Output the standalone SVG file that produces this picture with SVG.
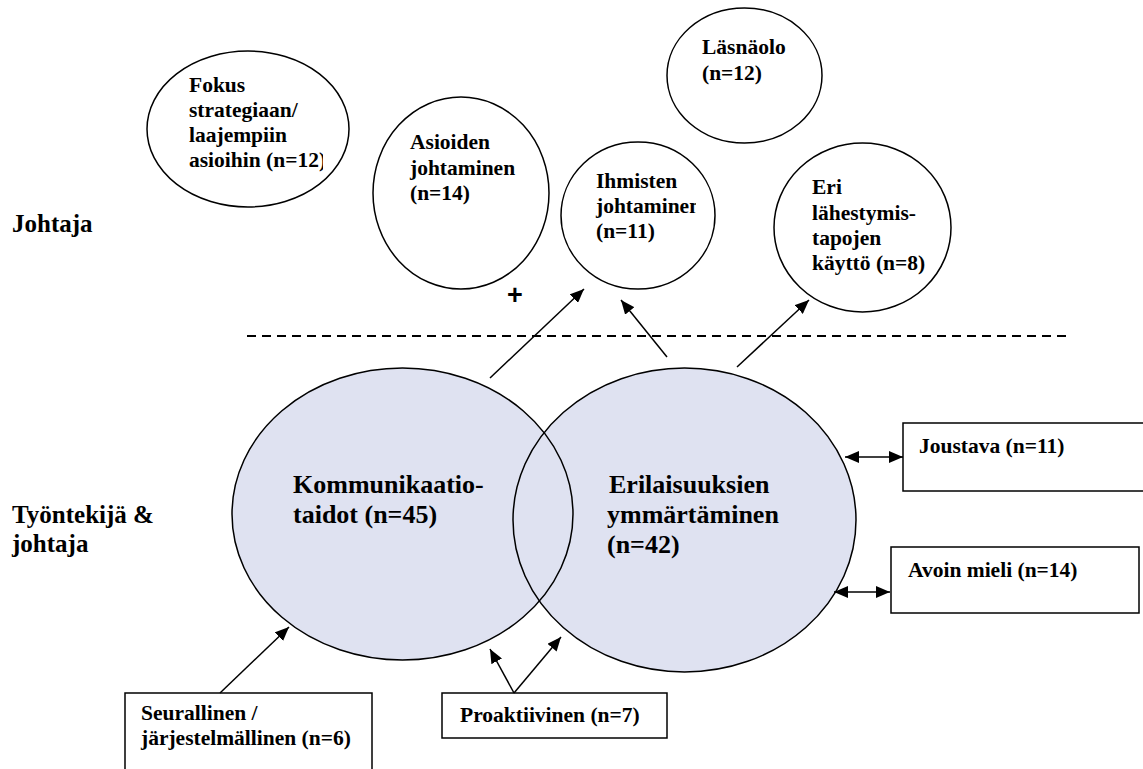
<svg xmlns="http://www.w3.org/2000/svg" width="1143" height="769" viewBox="0 0 1143 769">
<style>
text{font-family:'Liberation Serif','Times New Roman',serif;font-weight:bold;fill:#000}
.s{font-size:21.5px}
.m{font-size:26px}
.l{font-size:25px}
.o{fill:#fff;stroke:#000;stroke-width:1.5}
.f{fill:#dfe2f1;stroke:none}
.e{fill:none;stroke:#000;stroke-width:1.5}
.b{fill:#fff;stroke:#000;stroke-width:1.5}
.c{stroke:#000;stroke-width:1.5;fill:none}
</style>
<defs>
<marker id="ah" viewBox="0 0 14 12" refX="14" refY="6" markerWidth="14" markerHeight="12" markerUnits="userSpaceOnUse" orient="auto">
<path d="M0,0 L14,6 L0,12 Z" fill="#000"/>
</marker>
<marker id="as" viewBox="0 0 14 12" refX="0" refY="6" markerWidth="14" markerHeight="12" markerUnits="userSpaceOnUse" orient="auto">
<path d="M14,0 L0,6 L14,12 Z" fill="#000"/>
</marker>
<clipPath id="cf"><rect x="140" y="40" width="183" height="180"/></clipPath>
<clipPath id="ci"><rect x="560" y="140" width="136" height="160"/></clipPath>
</defs>
<rect width="1143" height="769" fill="#fff"/>
<g font-family="Liberation Serif, Times New Roman, serif" font-weight="bold">

<g id="label-johtaja"><text class="l" x="12" y="232">Johtaja</text></g>
<g id="label-tyontekija"><text class="l" x="12" y="523">Työntekijä &amp;</text><text class="l" x="12" y="552">johtaja</text></g>

<g id="divider"><line x1="247" y1="336" x2="1066" y2="336" stroke="#000" stroke-width="2" stroke-dasharray="9 6"/></g>

<g id="fokus">
<ellipse class="o" cx="248" cy="129" rx="101" ry="78"/>
<g clip-path="url(#cf)"><text class="s" x="189" y="92">Fokus</text><text class="s" x="189" y="117">strategiaan/</text><text class="s" x="189" y="142">laajempiin</text><text class="s" x="189" y="167">asioihin (n=12)</text></g>
</g>
<g id="asioiden">
<ellipse class="o" cx="461" cy="193" rx="88" ry="96"/>
<text class="s" x="410" y="149">Asioiden</text><text class="s" x="410" y="175">johtaminen</text><text class="s" x="410" y="200">(n=14)</text>
</g>
<g id="lasnaolo">
<ellipse class="o" cx="744.5" cy="75.5" rx="77.5" ry="67.5"/>
<text class="s" x="702" y="54">Läsnäolo</text><text class="s" x="702" y="80">(n=12)</text>
</g>
<g id="ihmisten">
<ellipse class="o" cx="638" cy="215.5" rx="77" ry="73.5"/>
<g clip-path="url(#ci)"><text class="s" x="596" y="188">Ihmisten</text><text class="s" x="596" y="213">johtaminen</text><text class="s" x="596" y="238">(n=11)</text></g>
</g>
<g id="eri">
<ellipse class="o" cx="862.5" cy="227.5" rx="88.5" ry="84.5"/>
<text class="s" x="812" y="194">Eri</text><text class="s" x="812" y="220">lähestymis-</text><text class="s" x="812" y="245">tapojen</text><text class="s" x="812" y="270">käyttö (n=8)</text>
</g>
<g id="plus"><text x="515" y="304" text-anchor="middle" font-family="Liberation Sans, Arial, sans-serif" style="font-family:'Liberation Sans',Arial,sans-serif;font-size:27px">+</text></g>

<g id="fills">
<ellipse class="f" cx="402.5" cy="514" rx="170.5" ry="146"/>
<ellipse class="f" cx="684.5" cy="520" rx="171.5" ry="152"/>
</g>
<g id="kommunikaatio">
<ellipse class="e" cx="402.5" cy="514" rx="170.5" ry="146"/>
<text class="m" x="293" y="493">Kommunikaatio-</text><text class="m" x="293" y="523">taidot (n=45)</text>
</g>
<g id="erilaisuuksien">
<ellipse class="e" cx="684.5" cy="520" rx="171.5" ry="152"/>
<text class="m" x="609" y="493">Erilaisuuksien</text><text class="m" x="607" y="523">ymmärtäminen</text><text class="m" x="607" y="553">(n=42)</text>
</g>

<g id="joustava">
<rect class="b" x="903" y="423" width="245" height="68"/>
<text class="s" x="919" y="453">Joustava (n=11)</text>
</g>
<g id="avoin">
<rect class="b" x="891" y="547" width="248" height="66"/>
<text class="s" x="908" y="577">Avoin mieli (n=14)</text>
</g>
<g id="proaktiivinen">
<rect class="b" x="442" y="693" width="225" height="45"/>
<text class="s" x="460" y="722">Proaktiivinen (n=7)</text>
</g>
<g id="seurallinen">
<rect class="b" x="125" y="693" width="247" height="90"/>
<text class="s" x="141" y="720">Seurallinen /</text><text class="s" x="141" y="745">järjestelmällinen (n=6)</text>
</g>

<g id="connectors">
<line class="c" x1="490" y1="378" x2="584" y2="289" marker-end="url(#ah)"/>
<line class="c" x1="667" y1="357" x2="621" y2="300" marker-end="url(#ah)"/>
<line class="c" x1="737" y1="367" x2="809" y2="300" marker-end="url(#ah)"/>
<line class="c" x1="845" y1="457" x2="903" y2="457" marker-start="url(#as)" marker-end="url(#ah)"/>
<line class="c" x1="834" y1="592" x2="890" y2="592" marker-start="url(#as)" marker-end="url(#ah)"/>
<line class="c" x1="514" y1="693" x2="490" y2="649" marker-end="url(#ah)"/>
<line class="c" x1="514" y1="693" x2="561" y2="637" marker-end="url(#ah)"/>
<line class="c" x1="220" y1="693" x2="289" y2="627" marker-end="url(#ah)"/>
</g>
</g>
</svg>
